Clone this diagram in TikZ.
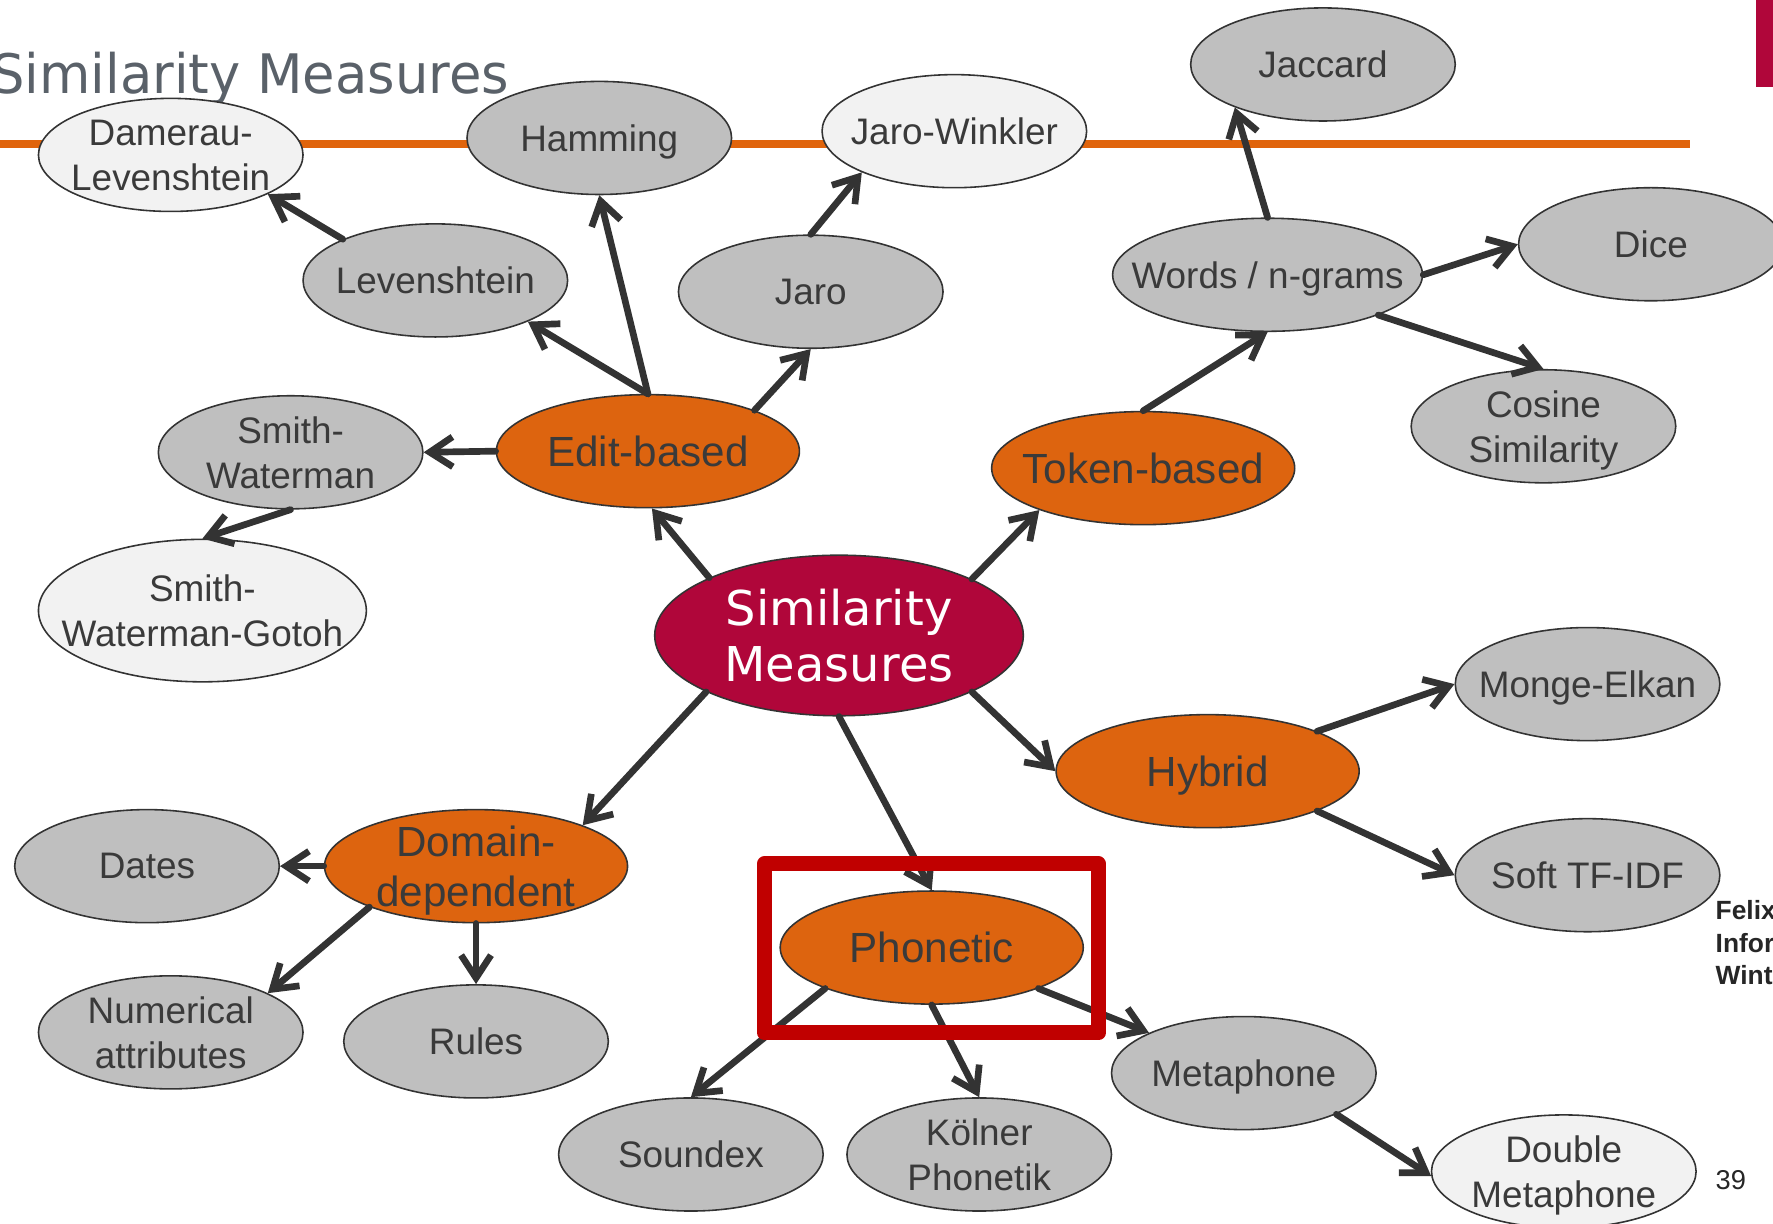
\documentclass[tikz,border=0pt]{standalone}
\usepackage{fontspec}
\setmainfont{Liberation Sans}
\newfontfamily\rootfont{DejaVu Sans}
\usetikzlibrary{shapes.geometric,arrows.meta}

\definecolor{nodegray}{HTML}{BFBFBF}
\definecolor{nodelight}{HTML}{F2F2F2}
\definecolor{nodeorange}{HTML}{DD640F}
\definecolor{nodecrimson}{HTML}{B0063A}
\definecolor{edgecol}{HTML}{333333}
\definecolor{textcol}{HTML}{3A3A3A}
\definecolor{titlecol}{HTML}{5A6169}
\definecolor{framecol}{HTML}{C00000}
\definecolor{rulecol}{HTML}{E0640C}

\newlength\un
\setlength\un{0.022614cm}

\begin{document}
\begin{tikzpicture}[x=\un,y=-\un,
  bubble/.style={ellipse, draw=edgecol, line width=0.9pt, inner xsep=-4cm, inner ysep=-2cm,
    align=center, text=textcol, text depth=0pt},
  leaf/.style={bubble, fill=nodegray, minimum width=234*\un, minimum height=100*\un,
    font=\fontsize{21}{25.5}\selectfont},
  leaflight/.style={leaf, fill=nodelight},
  branch/.style={bubble, fill=nodeorange, minimum width=268*\un, minimum height=100*\un,
    font=\fontsize{24}{28.5}\selectfont},
  root/.style={bubble, fill=nodecrimson, text=white, minimum width=326*\un, minimum height=142*\un,
    font=\rootfont\fontsize{27.3}{32}\selectfont},
  link/.style={draw=edgecol, line width=3.8pt, line cap=round, line join=round,
    -{Straight Barb[length=13pt,width=17pt]}},
  sidenote/.style={anchor=base west, inner sep=0pt, text=black!85}
]
\useasboundingbox (0,0) rectangle (1568,1082);
\clip (0,0) rectangle (1568,1082);

% slide title and rule
\node[anchor=base west, inner sep=0pt, text=titlecol] (title) at (-8,82.5)
  {\scalebox{0.968}[1]{\rootfont\fontsize{31}{36}\selectfont Similarity Measures}};
\draw[rulecol, line width=4.5pt] (0,127.5) coordinate (rulestart) -- (1495,127.5) coordinate (ruleend);
\fill[nodecrimson] (1553,0) rectangle (1568,77);

% centre
\node[root] (sim) at (742,562) {Similarity\\Measures};

% categories
\node[branch] (edit) at (573,399) {Edit-based};
\node[branch] (token) at (1011,414) {Token-based};
\node[branch] (hyb) at (1068,682) {Hybrid};
\node[branch] (dom) at (421,766) {Domain-\\dependent};
\node[branch] (pho) at (824,838) {Phonetic};

% edit-based measures
\node[leaflight] (dam) at (151,137) {Damerau-\\Levenshtein};
\node[leaf] (ham) at (530,122) {Hamming};
\node[leaflight] (jw) at (844,116) {Jaro-Winkler};
\node[leaf] (lev) at (385,248) {Levenshtein};
\node[leaf] (jaro) at (717,258) {Jaro};
\node[leaf] (sw) at (257,400) {Smith-\\Waterman};
\node[leaflight, minimum width=290*\un, minimum height=126*\un] (swg) at (179,540) {Smith-\\Waterman-Gotoh};

% token-based measures
\node[leaf, minimum width=274*\un] (words) at (1121,243) {Words / n-grams};
\node[leaf] (jac) at (1170,57) {Jaccard};
\node[leaf] (dice) at (1460,216) {Dice};
\node[leaf] (cos) at (1365,377) {Cosine\\Similarity};

% hybrid measures
\node[leaf] (monge) at (1404,605) {Monge-Elkan};
\node[leaf] (soft) at (1404,774) {Soft TF-IDF};

% domain-dependent measures
\node[leaf] (dates) at (130,766) {Dates};
\node[leaf] (num) at (151,913) {Numerical\\attributes};
\node[leaf] (rules) at (421,921) {Rules};

% phonetic measures
\node[leaf] (sdx) at (611,1021) {Soundex};
\node[leaf] (kol) at (866,1021) {Kölner\\Phonetik};
\node[leaf] (meta) at (1100,949) {Metaphone};
\node[leaflight] (dbl) at (1383,1036) {Double\\Metaphone};

% connectors
\draw[link] (sim.156) -- (edit.-86);
\draw[link] (sim.23.5) -- (token.-158.8);
\draw[link] (sim.203.9) -- (dom.21.2);
\draw[link] (sim.south) -- (pho.north);
\draw[link] (sim.-23.9) -- (hyb.west);

\draw[link] (edit.north) -- (lev.-24.1);
\draw[link] (edit.north) -- (ham.south);
\draw[link] (edit.21.4) -- (jaro.south);
\draw[link] (edit.west) -- (sw.east);
\draw[link] (lev.156.6) -- (dam.-22.4);
\draw[link] (jaro.north) -- (jw.-156.2);
\draw[link] (sw.south) -- (swg.north);

\draw[link] (token.north) -- (words.south);
\draw[link] (words.north) -- (jac.-154.8);
\draw[link] (words.east) -- (dice.west);
\draw[link] (words.-20.9) -- (cos.north);

\draw[link] (hyb.20.8) -- (monge.west);
\draw[link] (hyb.-20.2) -- (soft.west);

\draw[link] (dom.west) -- (dates.east);
\draw[link] (dom.201.3) -- (num.22.9);
\draw[link] (dom.south) -- (rules.north);

\draw[link] (pho.201.7) -- (sdx.north);
\draw[link] (pho.south) -- (kol.north);
\draw[link] (pho.-21.5) -- (meta.157.6);
\draw[link] (meta.-24) -- (dbl.182);

% highlight frame
\draw[framecol, line width=8.5pt, line join=round] (676,764) rectangle (971.5,913.5);

% footer
\node[sidenote, font=\bfseries\fontsize{15}{18}\selectfont] (fn1) at (1517,813) {Felix};
\node[sidenote, font=\bfseries\fontsize{15}{18}\selectfont] (fn2) at (1517,842) {Infor};
\node[sidenote, font=\bfseries\fontsize{15}{18}\selectfont] (fn3) at (1517,871) {Wint};
\node[sidenote, font=\fontsize{15.5}{18}\selectfont] (page) at (1517,1052) {39};
\end{tikzpicture}
\end{document}
